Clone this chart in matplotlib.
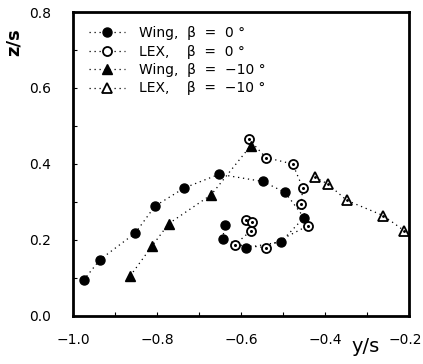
import matplotlib
matplotlib.use("Agg")
import matplotlib.pyplot as plt
from matplotlib.ticker import MultipleLocator

plt.rcParams['font.family'] = ['DejaVu Sans']

# Wing, beta = 0
wing0_y = [-0.975, -0.936, -0.852, -0.805, -0.735, -0.652, -0.548, -0.495, -0.450, -0.505, -0.587, -0.644, -0.638]
wing0_z = [0.094, 0.148, 0.218, 0.289, 0.337, 0.373, 0.354, 0.325, 0.259, 0.195, 0.180, 0.203, 0.240]
# LEX, beta = 0
lex0_y = [-0.582, -0.541, -0.477, -0.453, -0.457, -0.440, -0.541, -0.614, -0.577, -0.587, -0.573]
lex0_z = [0.466, 0.417, 0.400, 0.337, 0.294, 0.238, 0.180, 0.188, 0.224, 0.252, 0.246]
# Wing, beta = -10
wing10_y = [-0.864, -0.812, -0.772, -0.671, -0.577]
wing10_z = [0.105, 0.184, 0.243, 0.319, 0.448]
# LEX, beta = -10
lex10_y = [-0.424, -0.394, -0.348, -0.261, -0.211]
lex10_z = [0.365, 0.348, 0.304, 0.264, 0.224]

labels = ['Wing,  \u03b2  =  0 \u00b0', 'LEX,    \u03b2  =  0 \u00b0',
          'Wing,  \u03b2  =  \u221210 \u00b0', 'LEX,    \u03b2  =  \u221210 \u00b0']

fig = plt.figure(figsize=(4.23, 3.64), dpi=100)
ax = fig.add_axes([0.1726, 0.132, 0.7944, 0.835])

ls = dict(color='black', linestyle=(0, (1, 3)), linewidth=0.9)
ax.plot(wing0_y, wing0_z, marker='o', ms=6.5, mfc='black', mec='black', label=labels[0], **ls)
ax.plot(lex0_y, lex0_z, marker='o', ms=6.5, mfc='white', mec='black', mew=1.3, label=labels[1], **ls)
ax.plot(wing10_y, wing10_z, marker='^', ms=6.5, mfc='black', mec='black', label=labels[2], **ls)
ax.plot(lex10_y, lex10_z, marker='^', ms=6.5, mfc='white', mec='black', mew=1.3, label=labels[3], **ls)
# small centre dots seen inside the open symbols
ax.plot(lex0_y, lex0_z, linestyle='none', marker='o', ms=1.2, color='black')
ax.plot(lex10_y, lex10_z, linestyle='none', marker='o', ms=1.0, color='black')

ax.set_xlim(-1.0, -0.2)
ax.set_ylim(0.0, 0.8)
ax.set_xticks([-1.0, -0.8, -0.6, -0.4, -0.2])
ax.set_xticklabels(['\u22121.0', '\u22120.8', '\u22120.6', '\u22120.4', ''])
ax.set_yticks([0.0, 0.2, 0.4, 0.6, 0.8])
ax.set_yticklabels(['0.0', '0.2', '0.4', '0.6', '0.8'])
ax.xaxis.set_minor_locator(MultipleLocator(0.1))
ax.yaxis.set_minor_locator(MultipleLocator(0.1))
ax.tick_params(which='both', direction='in', length=3, width=0.8, labelsize=10)
ax.tick_params(axis='x', pad=12)
ax.tick_params(axis='y', pad=16)
for sp in ax.spines.values():
    sp.set_linewidth(2)

# last x tick label sits against the right edge of the figure
fig.text(0.997, 0.066, '\u22120.2', ha='right', va='center', fontsize=10)
fig.text(0.865, 0.047, 'y/s', ha='center', va='center', fontsize=14)
fig.text(0.033, 0.885, 'z/s', rotation=90, ha='center', va='center', fontsize=13, fontweight='bold')

ax.legend(loc='upper left', frameon=False, fontsize=10, handlelength=2.6,
          handletextpad=1.0, labelspacing=0.32, borderaxespad=0.4,
          bbox_to_anchor=(0.015, 0.99))

fig.savefig('out.png', dpi=100)
